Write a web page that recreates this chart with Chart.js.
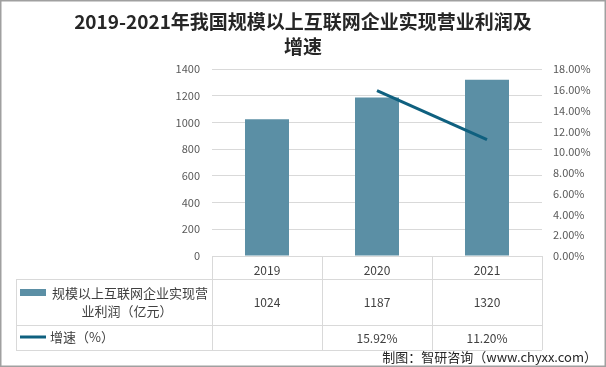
<!DOCTYPE html>
<html>
<head>
<meta charset="utf-8">
<script src="https://cdn.jsdelivr.net/npm/chart.js@4"></script>
<style>
  html, body { margin: 0; padding: 0; background: #fff; }
  #wrap { width: 606px; height: 367px; position: relative; }
</style>
</head>
<body>
<div id="wrap"><canvas id="c" width="606" height="367"></canvas></div>
<script>
const years = ['2019', '2020', '2021'];
const profit = [1024, 1187, 1320];
const growth = [null, 15.92, 11.20];
const titleLines = ['2019-2021年我国规模以上互联网企业实现营业利润及', '增速'];
const profitLabel = ['规模以上互联网企业实现营', '业利润（亿元）'];
const growthLabel = '增速（%）';
const sourceText = '制图：智研咨询（www.chyxx.com）';

const BAR = '#5B8FA5';
const LINE = '#0F607F';
const GRID = '#D9D9D9';
const FONT = '"Noto Sans CJK SC", "Noto Sans", sans-serif';

// title, data table under the plot, source line and outer frame
const extras = {
    id: 'extras',
    afterDraw(chart) {
        const ctx = chart.ctx;
        const x = chart.scales.x;
        const area = chart.chartArea;
        ctx.save();

        ctx.fillStyle = '#262626';
        ctx.font = 'bold 19px ' + FONT;
        ctx.textAlign = 'center';
        ctx.textBaseline = 'middle';
        ctx.fillText(titleLines[0], 303, 22);
        ctx.fillText(titleLines[1], 303, 47);

        const bounds = [area.left];
        for (let i = 0; i < years.length - 1; i++) {
            bounds.push((x.getPixelForValue(i) + x.getPixelForValue(i + 1)) / 2);
        }
        bounds.push(area.right);

        const top = area.bottom;
        const r1 = 279, r2 = 325, r3 = 350, left = 16;
        ctx.strokeStyle = GRID;
        ctx.lineWidth = 1;
        ctx.beginPath();
        [r1, r2, r3].forEach(y => {
            ctx.moveTo(left, y + 0.5);
            ctx.lineTo(area.right, y + 0.5);
        });
        bounds.forEach(b => {
            ctx.moveTo(Math.round(b) + 0.5, top);
            ctx.lineTo(Math.round(b) + 0.5, r3);
        });
        ctx.moveTo(left + 0.5, r1);
        ctx.lineTo(left + 0.5, r3);
        ctx.stroke();

        // legend keys
        ctx.fillStyle = BAR;
        ctx.fillRect(20, 289, 26, 7);
        ctx.strokeStyle = LINE;
        ctx.lineWidth = 3;
        ctx.beginPath();
        ctx.moveTo(20, 337);
        ctx.lineTo(46, 337);
        ctx.stroke();

        ctx.fillStyle = '#404040';
        ctx.font = '13px ' + FONT;
        ctx.textAlign = 'center';
        ctx.fillText(profitLabel[0], 130, 293);
        ctx.fillText(profitLabel[1], 127, 311);
        ctx.textAlign = 'left';
        ctx.fillText(growthLabel, 50, 337);

        ctx.font = '12px ' + FONT;
        ctx.textAlign = 'center';
        years.forEach((y, i) => {
            const cx = x.getPixelForValue(i);
            ctx.fillText(String(profit[i]), cx, 302);
            if (growth[i] != null) ctx.fillText(growth[i].toFixed(2) + '%', cx, 338);
        });

        ctx.fillStyle = '#262626';
        ctx.font = '13px ' + FONT;
        ctx.textAlign = 'right';
        ctx.fillText(sourceText, 597, 357);

        ctx.strokeStyle = '#A0A0A0';
        ctx.lineWidth = 1.5;
        ctx.strokeRect(0.75, 0.75, 604.5, 365.5);
        ctx.restore();
    }
};

new Chart(document.getElementById('c'), {
    data: {
        labels: years,
        datasets: [
            {
                type: 'line',
                label: growthLabel,
                data: growth,
                yAxisID: 'y1',
                borderColor: LINE,
                borderWidth: 3,
                pointRadius: 0,
                tension: 0,
                order: 0,
            },
            {
                type: 'bar',
                label: profitLabel.join(''),
                data: profit,
                yAxisID: 'y',
                backgroundColor: BAR,
                categoryPercentage: 0.4,
                barPercentage: 1,
                order: 1,
            },
        ],
    },
    options: {
        responsive: false,
        animation: false,
        layout: { padding: { top: 69, left: 0, right: 0, bottom: 0 } },
        plugins: {
            legend: { display: false },
            title: { display: false },
            tooltip: { enabled: false },
        },
        scales: {
            x: {
                grid: { display: false, drawTicks: false },
                border: { color: GRID },
                ticks: { color: '#404040', font: { family: FONT, size: 12 }, padding: 7 },
                afterFit(s) { s.height = 111; },
            },
            y: {
                position: 'left',
                min: 0,
                max: 1400,
                ticks: {
                    stepSize: 200,
                    color: '#595959',
                    font: { family: FONT, size: 11 },
                    padding: 12,
                    callback: v => String(v),
                },
                grid: { color: GRID, drawTicks: false },
                border: { display: false },
                afterFit(s) { s.width = 212; },
            },
            y1: {
                position: 'right',
                min: 0,
                max: 18,
                ticks: {
                    stepSize: 2,
                    color: '#595959',
                    font: { family: FONT, size: 11 },
                    padding: 11,
                    callback: v => v.toFixed(2) + '%',
                },
                grid: { display: false, drawTicks: false },
                border: { display: false },
                afterFit(s) { s.width = 64; },
            },
        },
    },
    plugins: [extras],
});
</script>
</body>
</html>
